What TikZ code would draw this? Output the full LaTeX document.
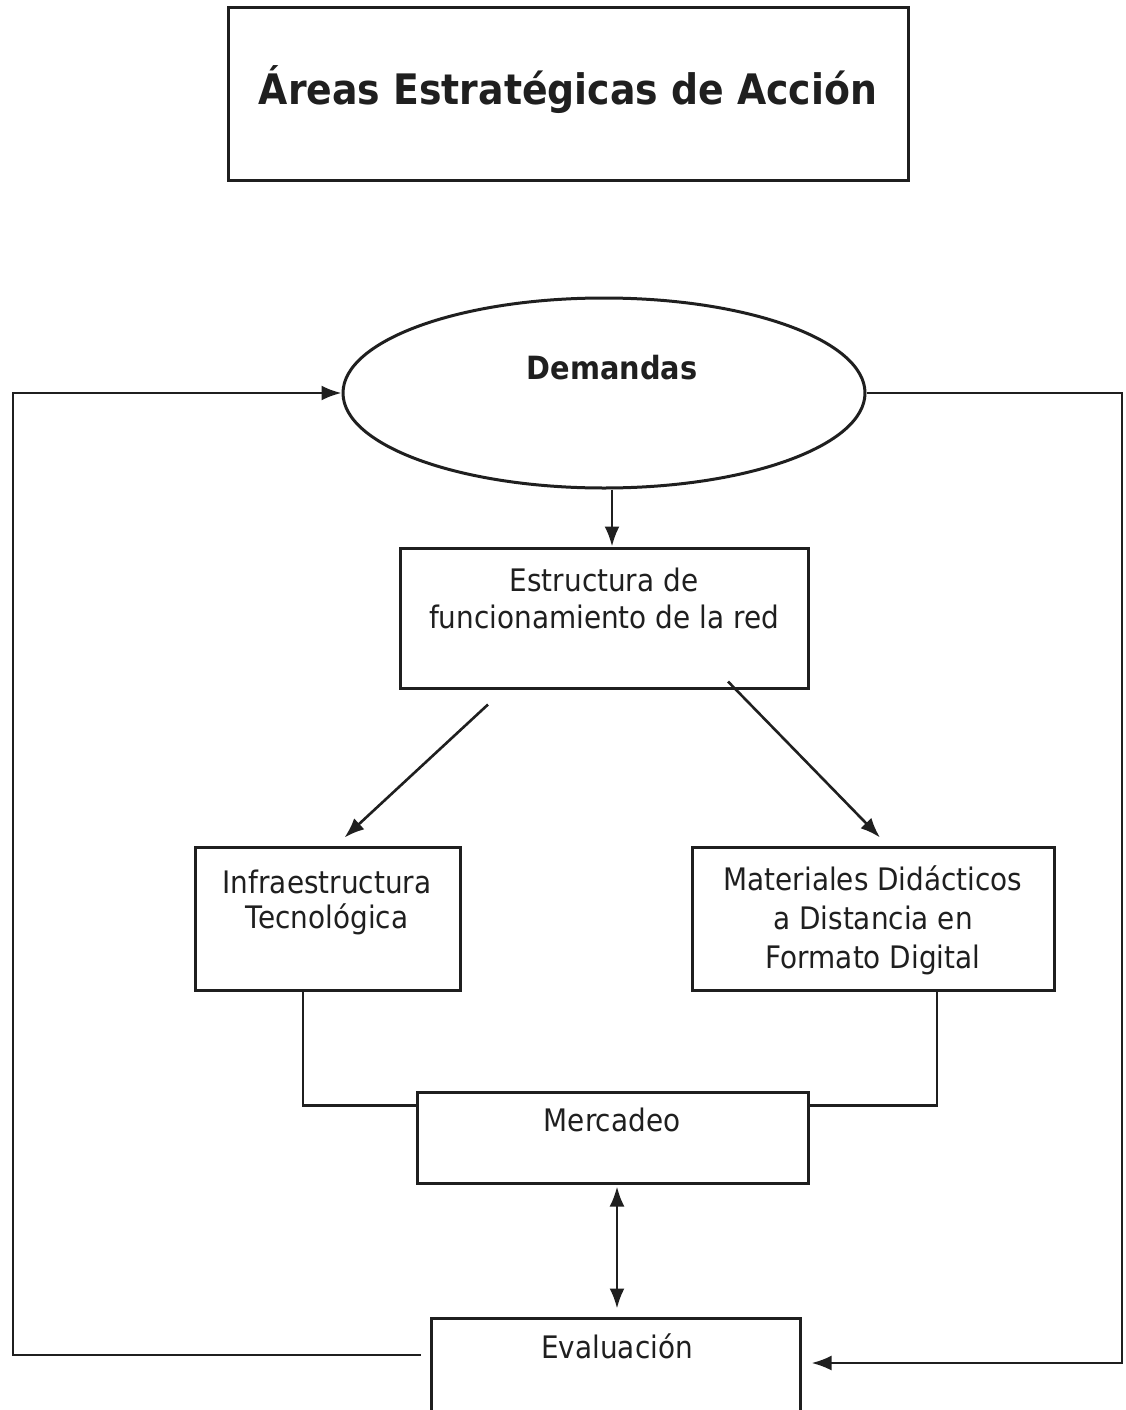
\documentclass[tikz,border=0pt]{standalone}
\usepackage{fontspec}
\setmainfont{DejaVu Sans}[FakeStretch=0.9]
\usetikzlibrary{shapes.geometric,arrows.meta,calc}
\begin{document}
\begin{tikzpicture}[x=1pt,y=-1pt,
  box/.style={draw=black!88, line width=3pt, rectangle, inner sep=0pt},
  lbl/.style={font=\fontsize{31}{37}\selectfont, align=center, text=black!88, inner sep=0pt},
  conn/.style={draw=black!88, line width=2.6pt},
  tip/.tip={Latex[length=20pt,width=15pt]},
  arr/.style={conn, -tip},
]
\useasboundingbox (0,0) rectangle (1125,1410);
\clip (0,0) rectangle (1125,1410);
\fill[white] (0,0) rectangle (1125,1410);

% title
\node[box, minimum width=680pt, minimum height=172pt] (title) at (568,94) {};
\node[lbl, font=\fontsize{42}{50}\selectfont\bfseries] (titlet) at (568,90) {Áreas Estratégicas de Acción};

% demandas
\node[draw=black!88, line width=3pt, ellipse, inner sep=0pt, minimum width=522pt, minimum height=190pt] (dem) at (604,393) {};
\node[lbl, font=\fontsize{32}{37}\selectfont\bfseries] (demt) at (612,368) {Demandas};

% estructura
\node[box, minimum width=408pt, minimum height=140pt] (est) at (604,618) {};
\node[lbl] (estt) at (604,598) {Estructura de\\funcionamiento de la red};

% infraestructura
\node[box, minimum width=265pt, minimum height=143pt] (inf) at (327.5,918.5) {};
\node[lbl, font=\fontsize{31}{35}\selectfont] (inft) at (327,902) {Infraestructura\\Tecnológica};

% materiales
\node[box, minimum width=362pt, minimum height=143pt] (mat) at (873,918.5) {};
\node[lbl, font=\fontsize{31}{39}\selectfont] (matt) at (873,920) {Materiales Didácticos\\a Distancia en\\Formato Digital};

% mercadeo
\node[box, minimum width=391pt, minimum height=91pt] (mer) at (612.5,1137.5) {};
\node[lbl] (mert) at (612,1120) {Mercadeo};

% evaluacion
\node[box, minimum width=369pt, minimum height=107pt] (ev) at (615.5,1371.5) {};
\node[lbl] (evt) at (617,1346) {Evaluación};

% connectors
\draw[arr] (demt |- dem.south) -- (demt |- est.north);
\draw[arr] ($(est.south)+(-116,15)$) -- ($(inf.north)+(17,-8)$);
\draw[arr] ($(est.south)+(124,-8)$) -- ($(mat.north)+(7,-8)$);

\draw[conn] ($(inf.south)+(-24.5,0)$) |- ($(mer.west)+(0,-32)$);
\draw[conn] ($(mat.south)+(64,0)$) |- ($(mer.east)+(0,-32)$);

\draw[conn, tip-tip] ($(mer.south)+(4.5,2)$) -- ($(ev.north)+(1.5,-8)$);

\coordinate (lt) at (13,393);
\coordinate (rt) at (1122,1363);
\draw[arr] ($(ev.west)+(-9,-16.5)$) -| (lt) -- (dem.west);
\draw[arr] (dem.east) -| (rt) -- ($(ev.east)+(10,-8.5)$);
\end{tikzpicture}
\end{document}
